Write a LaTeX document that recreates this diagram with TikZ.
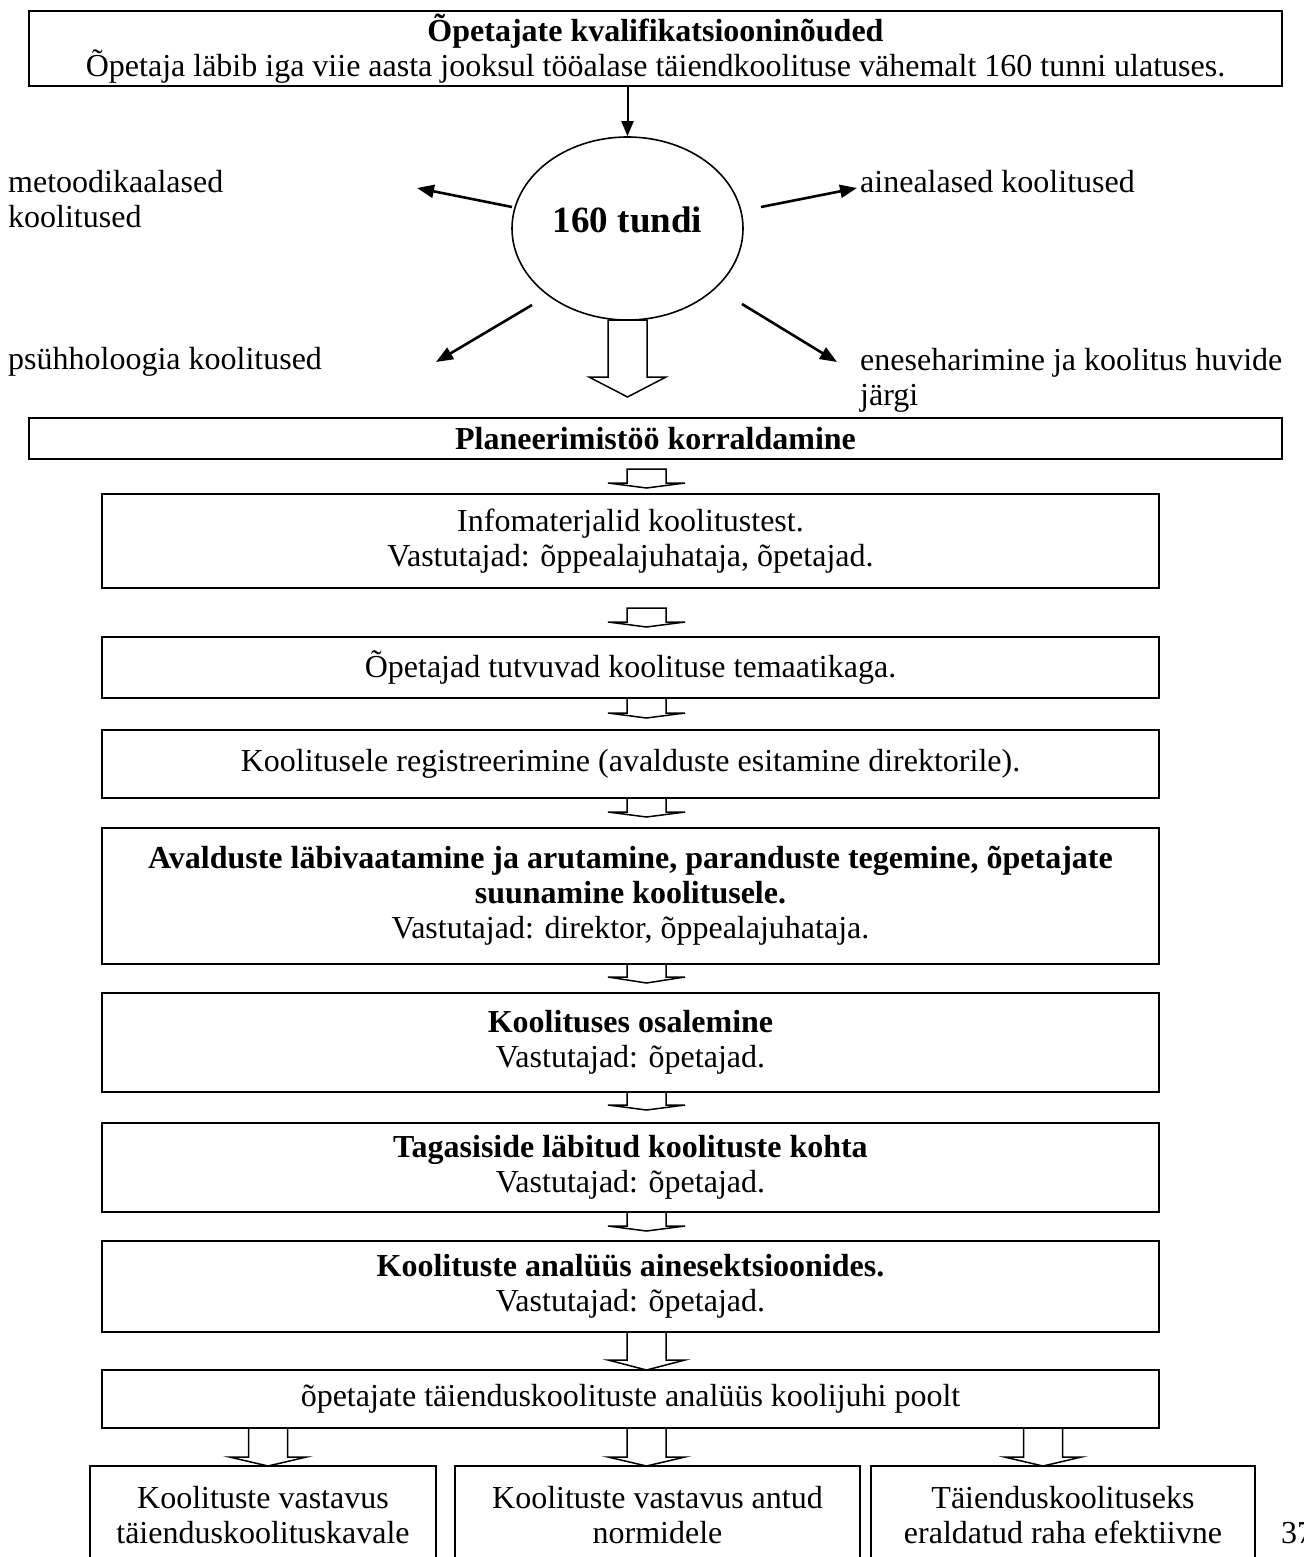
\documentclass[tikz,border=0pt]{standalone}
\usepackage{fontspec}
\setmainfont{Liberation Serif}
\usetikzlibrary{shapes.geometric,arrows.meta}
\tikzset{
  txt/.style={font=\fontsize{32}{35}\selectfont, align=center, inner sep=0pt},
  box/.style={txt, draw, line width=2pt},
  bigbox/.style={txt, draw, line width=2.6pt},
  lbl/.style={font=\fontsize{32}{35}\selectfont, align=left, inner sep=0pt, anchor=west},
  sarrow/.style={line width=2.6pt, -{Triangle[length=17pt,width=13pt]}},
  tarrow/.style={line width=2pt, -{Triangle[length=15pt,width=12pt]}},
  barrow/.style={draw, fill=white, line width=1.5pt, line join=miter},
}
\newcommand{\blockarr}[4]{%
  \draw[barrow] (#1-19.5,#2) -- (#1-19.5,#3) -- (#1-38.5,#3) -- (#1,#4) -- (#1+38.5,#3) -- (#1+19.5,#3) -- (#1+19.5,#2) -- cycle;}
\begin{document}
\begin{tikzpicture}[x=1pt,y=-1pt]
\useasboundingbox (0,0) rectangle (1303,1557);

% top box
\node[bigbox, minimum width=1253, minimum height=75] (top) at (655.5,48.5)
  {\textbf{Õpetajate kvalifikatsiooninõuded}\\Õpetaja läbib iga viie aasta jooksul tööalase täiendkoolituse vähemalt 160 tunni ulatuses.};

% ellipse
\node[ellipse, draw, line width=1.6pt, inner sep=0pt, minimum width=231, minimum height=183] (ell) at (627.5,228.5) {};
\node[font=\fontsize{37}{40}\selectfont\bfseries, inner sep=0pt] (ellt) at (627.5,220) {160 tundi};
\draw[tarrow] (top.south -| ell.north) -- (ell.north);

% side labels
\node[lbl] (lm) at (8,199.5) {metoodikaalased\\koolitused};
\node[lbl] (la) at (860,182) {ainealased koolitused};
\node[lbl] (lp) at (8,362) {psühholoogia koolitused};
\node[lbl] (le) at (860,380) {eneseharimine ja koolitus huvide\\järgi};

\coordinate (s1) at (512,207); \coordinate (t1) at (417,188);
\coordinate (s2) at (761,207); \coordinate (t2) at (857,188);
\coordinate (s3) at (532,305); \coordinate (t3) at (436,362);
\coordinate (s4) at (742,304); \coordinate (t4) at (837,362);
\draw[sarrow] (s1) -- (t1);
\draw[sarrow] (s2) -- (t2);
\draw[sarrow] (s3) -- (t3);
\draw[sarrow] (s4) -- (t4);

% big block arrow below ellipse
\blockarr{627.5}{320}{377}{397}

% planning box
\node[bigbox, minimum width=1253, minimum height=41] (plan) at (655.5,438.5)
  {\textbf{Planeerimistöö korraldamine}};

% flow boxes
\node[box, minimum width=1057, minimum height=94] (b1) at (630.5,541)
  {Infomaterjalid koolitustest.\\Vastutajad: õppealajuhataja, õpetajad.};
\node[box, minimum width=1057, minimum height=61] (b2) at (630.5,667.5)
  {Õpetajad tutvuvad koolituse temaatikaga.};
\node[box, minimum width=1057, minimum height=68] (b3) at (630.5,764)
  {Koolitusele registreerimine (avalduste esitamine direktorile).};
\node[box, minimum width=1057, minimum height=136] (b4) at (630.5,896)
  {\textbf{Avalduste läbivaatamine ja arutamine, paranduste tegemine, õpetajate}\\\textbf{suunamine koolitusele.}\\Vastutajad: direktor, õppealajuhataja.};
\node[box, minimum width=1057, minimum height=99] (b5) at (630.5,1042.5)
  {\textbf{Koolituses osalemine}\\Vastutajad: õpetajad.};
\node[box, minimum width=1057, minimum height=89] (b6) at (630.5,1167.5)
  {\textbf{Tagasiside läbitud koolituste kohta}\\Vastutajad: õpetajad.};
\node[box, minimum width=1057, minimum height=91] (b7) at (630.5,1286.5)
  {\textbf{Koolituste analüüs ainesektsioonides.}\\Vastutajad: õpetajad.};
\node[box, minimum width=1057, minimum height=58] (b8) at (630.5,1399)
  {õpetajate täienduskoolituste analüüs koolijuhi poolt};

% block arrows between boxes
\blockarr{646.5}{469}{483}{488}
\blockarr{646.5}{608}{622}{627}
\blockarr{646.5}{698}{713}{718}
\blockarr{646.5}{798}{812}{817}
\blockarr{646.5}{964}{977}{983}
\blockarr{646.5}{1092}{1105}{1110}
\blockarr{646.5}{1212}{1226}{1231}
\blockarr{646.5}{1332}{1360}{1370}

% bottom boxes
\node[box, minimum width=346, minimum height=98] (cA) at (263,1515)
  {Koolituste vastavus\\täienduskoolituskavale};
\node[box, minimum width=405, minimum height=98] (cB) at (657.5,1515)
  {Koolituste vastavus antud\\normidele};
\node[box, minimum width=384, minimum height=98] (cC) at (1063,1515)
  {Täienduskoolituseks\\eraldatud raha efektiivne};

\blockarr{268}{1428}{1457}{1466}
\blockarr{646.5}{1428}{1457}{1466}
\blockarr{1043}{1428}{1457}{1466}

\node[txt, anchor=west] (pg) at (1281,1533) {37};
\end{tikzpicture}
\end{document}
